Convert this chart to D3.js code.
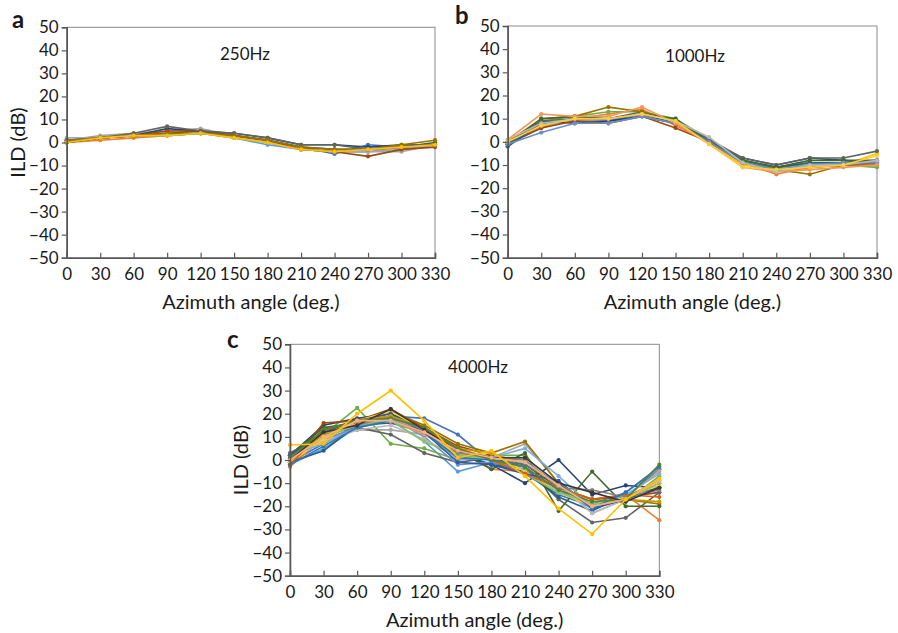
<!DOCTYPE html>
<html><head><meta charset="utf-8">
<script src="https://cdn.jsdelivr.net/npm/d3@7"></script>
<style>body{margin:0;background:#fff}svg{display:block}text{font-family:Lato,"Open Sans",sans-serif;fill:#1a1a1a}</style>
</head><body><svg id="c" width="898" height="633"></svg>
<script>
const angles = [0,30,60,90,120,150,180,210,240,270,300,330];
const yTicks = [50,40,30,20,10,0,-10,-20,-30,-40,-50];
const palette = ["#4472C4","#ED7D31","#A5A5A5","#FFC000","#5B9BD5","#70AD47","#264478","#9E480E","#636363","#997300","#255E91","#43682B","#698ED0","#F1975A","#B7B7B7","#FFCD33","#7CAFDD","#8CC168","#335AA1","#D26012","#848484","#CC9A00","#2E75B6","#548235","#3B3838","#F4B183"];

const ild250 = [
  [1,2,3,3,4,3,1,-2,-5,-1,-2,-1],
  [0,1,2,3,4,2,0,-3,-4,-4,-2,-1],
  [1,3,4,5,6,3,1,-3,-4,-4,-4,-1],
  [0,2,3,3,4,2,-1,-3,-4,-3,-2,-1],
  [2,2,4,4,5,3,0,-3,-4,-4,-3,-1],
  [0,2,3,4,5,3,1,-2,-3,-3,-2,0],
  [0,2,3,6,5,4,2,-1,-1,-2,-1,-1],
  [0,2,3,5,5,3,1,-3,-4,-6,-3,-2],
  [1,2,4,7,5,4,2,-1,-1,-3,-1,-1],
  [1,2,3,4,4,3,1,-2,-3,-3,-1,1],
  [0,2,3,3,4,2,0,-3,-4,-3,-2,-1]
];
const colors250 = ["#4472C4","#ED7D31","#A5A5A5","#5B9BD5","#8FAADC","#43682B","#264478","#9E480E","#636363","#997300","#FFC000"];

const ild1000 = [
  [-1,8,9,9,12,8,0,-8,-11,-10,-9,-9],
  [0,6,10,12,14,7,0,-9,-14,-11,-10,-10],
  [0,8,10,10,12,9,1,-9,-12,-10,-9,-8],
  [0,7,9,10,12,9,-1,-10,-12,-10,-10,-5],
  [-1,7,9,9,11,8,0,-8,-11,-9,-9,-9],
  [-2,9,11,13,13,10,1,-9,-11,-9,-10,-11],
  [-1,9,8,9,11,8,0,-7,-10,-7,-8,-9],
  [-1,6,9,8,11,6,0,-9,-12,-11,-10,-9],
  [-1,9,10,10,13,9,1,-7,-10,-7,-7,-4],
  [0,10,11,15,13,9,0,-9,-12,-14,-10,-10],
  [-2,8,10,10,12,8,0,-8,-11,-9,-9,-8],
  [-1,10,11,10,12,10,0,-8,-11,-8,-8,-8],
  [-1,4,8,8,11,8,0,-9,-12,-10,-9,-9],
  [1,12,11,11,15,8,-1,-11,-13,-12,-11,-10],
  [1,8,10,10,12,9,2,-9,-13,-10,-10,-8],
  [0,7,10,10,12,9,-1,-11,-12,-11,-10,-6]
];

const ild4000 = [
  [-1,7,15,19,18,11,-1,-6,-15,-20,-16,-4],
  [-3,10,17,18,12,6,-4,-5,-12,-17,-15,-26],
  [0,9,13,13,11,2,1,7,-10,-23,-17,-12],
  [-2,5,14,17,8,-5,-1,-4,-14,-19,-14,-4],
  [1,11,22.5,7,5,0,2,2,-13,-19,-18,-7],
  [2,15,18,20,14,2,-2,-10,0,-15,-11,-12],
  [-2,16,17,22,14,6,2,-2,-12,-17,-16,-14],
  [3,11,14,11,3,-1,1,-3,-17,-27,-25,-14],
  [1,13,17,21,15,7,3,8,-10,-21,-17,-19],
  [-1,4,15,16,12,3,-2,-5,-16,-22,-15,-12],
  [2,14,16,19,13,4,-4,3,-22,-5,-20,-20],
  [0,9,14,18,10,-2,-1,-3,-13,-21,-16,-9],
  [-1,9,16,17,11,5,1,-1,-10,-20,-16,-5],
  [1,8,13,15,9,1,0,1,-11,-23,-17,-10],
  [-1,9,17,21,13,2,3,-5,-14,-20,-16,-11],
  [2,7,14,18,13,0,1,5,-7,-20,-15,-6],
  [0,10,15,17,8,2,0,-6,-14,-19,-17,-10],
  [2,12,17,20,12,-1,-2,-6,-9,-21,-17,-12],
  [-2,13,17,19,13,5,0,-6,-12,-17,-15,-16],
  [1,12,15,19,13,3,1,0,-12,-13,-16,-13],
  [0,11,17,19,14,5,3,-2,-10,-20,-17,-18],
  [-2,6,14,17,12,1,0,-2,-10,-21,-14,-3],
  [1,13,17,18,14,5,0,-3,-13,-18,-17,-2],
  [0,12,15,22,13,4,1,1,-10,-14,-18,-12],
  [0,10,17,17,12,4,1,-1,-11,-20,-17,-9],
  [6.5,7,20,30,17,1,4,-7,-21,-32,-17,-8]
];
const colors4000 = ["#4472C4","#ED7D31","#A5A5A5","#5B9BD5","#70AD47","#264478","#9E480E","#636363","#997300","#255E91","#43682B","#698ED0","#F1975A","#B7B7B7","#FFCD33","#7CAFDD","#8CC168","#335AA1","#D26012","#848484","#CC9A00","#2E75B6","#548235","#3B3838","#F4B183","#FFC000"];

const panels = [
  {letter:"a", title:"250Hz", data:ild250, colors:colors250, x0:66.7, x1:435, y0:27.3, y1:257.7, ylab:true, lx:12, ly:28, tx:245, ty:60},
  {letter:"b", title:"1000Hz", data:ild1000, colors:palette, x0:507.7, x1:877, y0:26, y1:257.7, ylab:false, lx:455, ly:24, tx:695, ty:62},
  {letter:"c", title:"4000Hz", data:ild4000, colors:colors4000, x0:290, x1:659.3, y0:344.3, y1:575.7, ylab:true, lx:227, ly:348, tx:478, ty:373}
];

const svg = d3.select("#c");
panels.forEach(p => {
  const x = d3.scaleLinear().domain([0,330]).range([p.x0,p.x1]);
  const y = d3.scaleLinear().domain([-50,50]).range([p.y1,p.y0]);
  const g = svg.append("g");
  g.append("rect").attr("x",p.x0).attr("y",p.y0).attr("width",p.x1-p.x0).attr("height",p.y1-p.y0)
    .attr("fill","none").attr("stroke","#8a8a8a").attr("stroke-width",1);
  const line = d3.line().x((d,i)=>x(angles[i])).y(d=>y(d));
  p.data.forEach((s,k) => {
    const col = p.colors[k % p.colors.length];
    g.append("path").attr("d",line(s)).attr("fill","none").attr("stroke",col).attr("stroke-width",1.6);
    g.selectAll(null).data(s).enter().append("circle")
      .attr("cx",(d,i)=>x(angles[i])).attr("cy",d=>y(d)).attr("r",2.1).attr("fill",col);
  });
  const ya = d3.axisLeft(y).tickValues(yTicks).tickSize(5).tickPadding(3);
  const yg = g.append("g").attr("transform",`translate(${p.x0},0)`).call(ya);
  const xa = d3.axisBottom(x).tickValues(angles).tickSize(-5).tickPadding(10);
  const xg = g.append("g").attr("transform",`translate(0,${p.y1})`).call(xa);
  [yg,xg].forEach(a => {
    a.select(".domain").attr("stroke","#595959").attr("stroke-width",1.6);
    a.selectAll(".tick line").attr("stroke","#595959").attr("stroke-width",1.2);
    a.selectAll("text").attr("font-family","Lato, sans-serif").attr("font-size",17).attr("fill","#1a1a1a");
  });
  g.append("text").attr("x",p.tx).attr("y",p.ty).attr("text-anchor","middle").attr("font-size",17).text(p.title);
  g.append("text").attr("x",(p.x0+p.x1)/2).attr("y",p.y1+51).attr("text-anchor","middle").attr("font-size",20).text("Azimuth angle (deg.)");
  if (p.ylab) {
    const cy = (p.y0+p.y1)/2;
    g.append("text").attr("transform",`translate(${p.x0-42},${cy}) rotate(-90)`).attr("text-anchor","middle").attr("font-size",20).text("ILD (dB)");
  }
  g.append("text").attr("x",p.lx).attr("y",p.ly).attr("font-family","Arial, Liberation Sans, sans-serif").attr("font-weight","bold").attr("font-size",24).attr("fill","#000").text(p.letter);
});
</script></body></html>
